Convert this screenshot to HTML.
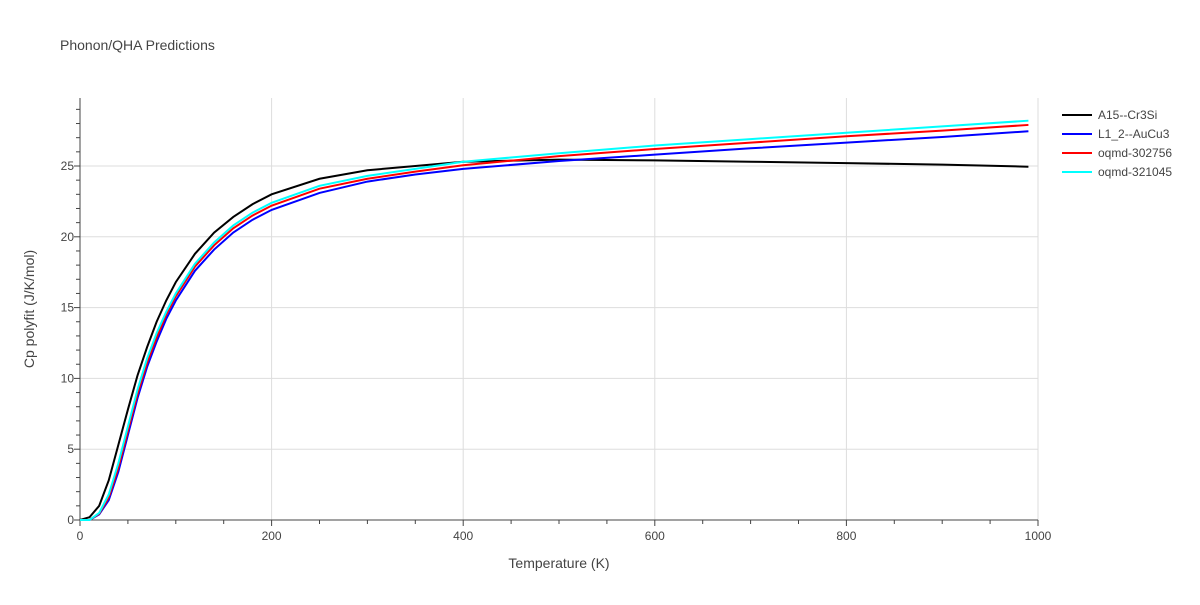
<!DOCTYPE html>
<html><head><meta charset="utf-8"><style>
body{margin:0;background:#fff;font-family:"Liberation Sans",sans-serif;}
svg text{font-family:"Liberation Sans",sans-serif;fill:#444;}
</style></head><body>
<svg id="chart" width="1200" height="600" xmlns="http://www.w3.org/2000/svg">
<text x="60" y="50" font-size="14">Phonon/QHA Predictions</text>
<g id="grid"></g><g id="axes"></g><g id="series"></g><g id="legend"></g>
<text x="559" y="568" font-size="14" text-anchor="middle">Temperature (K)</text>
<text x="34" y="309" font-size="14" text-anchor="middle" transform="rotate(-90 34 309)">Cp polyfit (J/K/mol)</text>
</svg>
<script>
const temps=[0,10,20,30,40,50,60,70,80,90,100,120,140,160,180,200,250,300,350,400,500,600,700,800,900,990];
const cpA15=[0,0.2,1.0,2.8,5.3,7.8,10.2,12.2,14.0,15.5,16.8,18.8,20.3,21.4,22.3,23.0,24.1,24.7,25.0,25.3,25.45,25.4,25.3,25.2,25.1,24.95];
const cpL12=[0,0,0.4,1.4,3.4,6.0,8.6,10.8,12.6,14.2,15.5,17.6,19.1,20.3,21.2,21.9,23.1,23.9,24.4,24.8,25.35,25.8,26.25,26.65,27.05,27.45];
const cp302756=[0,0,0.45,1.6,3.7,6.3,8.9,11.1,12.9,14.5,15.8,17.9,19.4,20.6,21.5,22.2,23.4,24.1,24.6,25.05,25.7,26.2,26.65,27.1,27.5,27.9];
const cp321045=[0,0,0.5,1.8,4.0,6.6,9.2,11.4,13.2,14.7,16.0,18.1,19.6,20.8,21.7,22.4,23.6,24.3,24.8,25.3,25.9,26.45,26.9,27.35,27.8,28.2];
const seriesNames=["A15--Cr3Si","L1_2--AuCu3","oqmd-302756","oqmd-321045"];
const seriesColors=["#000000","#0000ff","#ff0000","#00ffff"];
const xTicks=[0,200,400,600,800,1000];
const yTicks=[0,5,10,15,20,25];
const NS="http://www.w3.org/2000/svg";
const X0=80,X1=1038,Y0=520,YT=98;
const xs=t=>X0+(X1-X0)*t/1000;
const ys=v=>Y0-v*(Y0-166)/25;
function mk(tag,attrs,parent){const e=document.createElementNS(NS,tag);for(const k in attrs)e.setAttribute(k,attrs[k]);parent.appendChild(e);return e;}
const grid=document.getElementById('grid'),axes=document.getElementById('axes'),ser=document.getElementById('series'),leg=document.getElementById('legend');
xTicks.forEach(t=>{
 if(t>0){const g=mk('line',{x1:xs(t),x2:xs(t),y1:YT,y2:Y0,stroke:'#ddd'},grid);
 
 }
 const l=mk('text',{x:xs(t),y:Y0+20,'font-size':12,'text-anchor':'middle'},axes);l.textContent=t;
 
 
});
yTicks.forEach(v=>{
 if(v>0){const g=mk('line',{x1:X0,x2:X1,y1:ys(v),y2:ys(v),stroke:'#ddd'},grid);
 
 }
 const l=mk('text',{x:X0-6,y:ys(v)+4,'font-size':12,'text-anchor':'end'},axes);l.textContent=v;
 
 
});
for(let t=0;t<=1000;t+=50){mk('line',{x1:xs(t),x2:xs(t),y1:Y0,y2:Y0+(t%200==0?6:4),stroke:'#444'},axes);}
for(let v=0;v<=29;v++){mk('line',{x1:X0,x2:X0-(v%5==0?6:4),y1:ys(v),y2:ys(v),stroke:'#444'},axes);}
mk('line',{x1:X0,x2:X0,y1:YT,y2:Y0,stroke:'#444'},axes);
mk('line',{x1:X0,x2:X1,y1:Y0,y2:Y0,stroke:'#444'},axes);
[cpA15,cpL12,cp302756,cp321045].forEach((arr,i)=>{
 const p=mk('polyline',{points:temps.map((t,j)=>xs(t)+','+ys(arr[j])).join(' '),fill:'none',stroke:seriesColors[i],'stroke-width':2},ser);
 
 
 const g=mk('g',{},leg);
 
 
 const ly=115+i*19;
 mk('line',{x1:1062,x2:1092,y1:ly,y2:ly,stroke:seriesColors[i],'stroke-width':2},g);
 const tx=mk('text',{x:1098,y:ly+4,'font-size':12},g);tx.textContent=seriesNames[i];
});
</script>
</body></html>
